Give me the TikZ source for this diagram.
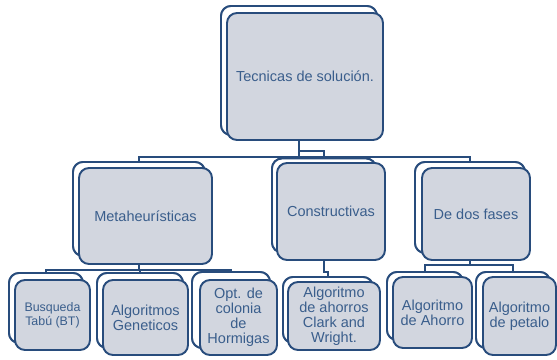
\documentclass[tikz,border=0pt]{standalone}
\usepackage{fontspec}
\setmainfont{Liberation Sans}
\definecolor{bordc}{RGB}{40,76,124}
\definecolor{boxc}{RGB}{210,214,223}
\definecolor{txtc}{RGB}{58,94,140}
\tikzset{
  backbox/.style={draw=bordc, fill=white, rounded corners=10pt, line width=1.9pt, inner sep=0pt},
  frontbox/.style={draw=bordc, fill=boxc, rounded corners=10pt, line width=1.9pt, inner sep=1pt,
    text=txtc, align=center, font=\fontsize{14.5}{15}\selectfont},
  smalltxt/.style={font=\fontsize{12.4}{14}\selectfont},
  conn/.style={draw=bordc, line width=1.9pt}
}
\begin{document}
\begin{tikzpicture}[x=1pt,y=-1pt]
\useasboundingbox (0,0) rectangle (557,359);
% back boxes (positions)
\node[backbox, minimum width=156pt, minimum height=129pt] (topb) at (299,70.5) {};
\node[backbox, minimum width=132pt, minimum height=94pt] (metab) at (139,209) {};
\node[backbox, minimum width=104pt, minimum height=94pt] (constrb) at (324,205.5) {};
\node[backbox, minimum width=110pt, minimum height=91pt] (dedosb) at (470,207.5) {};
\node[backbox, minimum width=74pt, minimum height=70pt] (busqb) at (46,308) {};
\node[backbox, minimum width=86pt, minimum height=75pt] (genb) at (140,310.5) {};
\node[backbox, minimum width=78pt, minimum height=76pt] (optb) at (231,310) {};
\node[backbox, minimum width=90pt, minimum height=66pt] (ahorrosb) at (328,310) {};
\node[backbox, minimum width=76pt, minimum height=68pt] (ahorrob) at (425,306) {};
\node[backbox, minimum width=74pt, minimum height=76pt] (petalob) at (513,310) {};
% connectors
\draw[conn] (topb.center) -- (topb.center |- 0,157) -| (metab.north);
\draw[conn] (topb.center |- 0,157) -| (dedosb.north);
\draw[conn] (topb.center) -- (topb.center |- 0,151) -| (constrb.north);
\draw[conn] (metab.center) -- (metab.center |- 0,270) -| (busqb.north);
\draw[conn] (metab.center |- 0,270) -| (genb.north);
\draw[conn] (metab.center |- 0,270) -| (optb.north);
\draw[conn] (constrb.center) -- (constrb.center |- 0,272) -| (ahorrosb.north);
\draw[conn] (dedosb.center) -- (dedosb.center |- 0,265) -| (ahorrob.north);
\draw[conn] (dedosb.center |- 0,265) -| (petalob.north);
% redraw back boxes over connector ends
\node[backbox, minimum width=156pt, minimum height=129pt] at (topb) {};
\node[backbox, minimum width=132pt, minimum height=94pt] at (metab) {};
\node[backbox, minimum width=104pt, minimum height=94pt] at (constrb) {};
\node[backbox, minimum width=110pt, minimum height=91pt] at (dedosb) {};
\node[backbox, minimum width=74pt, minimum height=70pt] at (busqb) {};
\node[backbox, minimum width=86pt, minimum height=75pt] at (genb) {};
\node[backbox, minimum width=78pt, minimum height=76pt] at (optb) {};
\node[backbox, minimum width=90pt, minimum height=66pt] at (ahorrosb) {};
\node[backbox, minimum width=76pt, minimum height=68pt] at (ahorrob) {};
\node[backbox, minimum width=74pt, minimum height=76pt] at (petalob) {};
% front boxes
\node[frontbox, minimum width=156pt, minimum height=127pt] (top) at (305,76.5) {Tecnicas de solución.};
\node[frontbox, minimum width=133pt, minimum height=96pt] (meta) at (145.5,216) {Metaheurísticas};
\node[frontbox, minimum width=108pt, minimum height=97pt] (constr) at (331,211.5) {Constructivas};
\node[frontbox, minimum width=108pt, minimum height=92pt] (dedos) at (476,214) {De dos fases};
\node[frontbox, smalltxt, minimum width=75pt, minimum height=70pt] (busq) at (52.5,315) {Busqueda\\Tabú (BT)};
\node[frontbox, minimum width=85pt, minimum height=75pt] (gen) at (145.5,317.5) {Algoritmos\\Geneticos};
\node[frontbox, minimum width=77pt, minimum height=75pt] (opt) at (238.5,317.5) {Opt. de\\colonia\\de\\Hormigas};
\node[frontbox, minimum width=92pt, minimum height=68pt] (ahorros) at (334,316) {Algoritmo\\de ahorros\\Clark and\\Wright.};
\node[frontbox, minimum width=79pt, minimum height=71pt] (ahorro) at (432.5,312.5) {Algoritmo\\de Ahorro};
\node[frontbox, minimum width=73pt, minimum height=78pt] (petalo) at (519.5,316) {Algoritmo\\de petalo};
\end{tikzpicture}
\end{document}
